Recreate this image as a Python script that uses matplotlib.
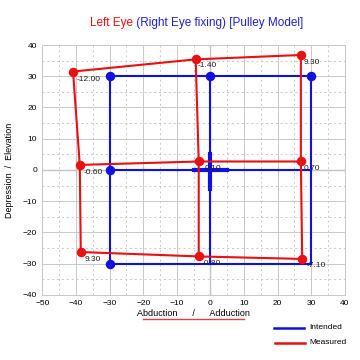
import matplotlib
matplotlib.use("Agg")
import matplotlib.pyplot as plt
from matplotlib.ticker import MultipleLocator

plt.rcParams['font.family'] = ['Liberation Sans', 'DejaVu Sans']

# intended grid (blue)
intended_x = [-30, 0, 30]
intended_y = [30, 0, -30]
intended_dots_x = [-30, 0, 30, -30, -30]
intended_dots_y = [30, 30, 30, 0, -30]

# measured positions (red), rows top -> bottom, cols left -> right
measured_x = [[-40.9, -4.4, 26.9],
              [-38.9, -3.5, 26.9],
              [-38.6, -3.5, 27.3]]
measured_y = [[31.5, 35.4, 36.8],
              [1.6, 2.7, 2.7],
              [-26.3, -27.7, -28.5]]

# torsion values shown next to each point
labels = ["-12.00", "-1.40", "9.30", "-0.60", "0.10", "0.70", "9.30", "-0.80", "-7.10"]
label_x = [-39.8, -3.7, 27.8, -37.9, -1.7, 27.8, -37.4, -2.6, 28.5]
label_y = [29.1, 33.3, 34.3, -0.7, 0.5, 0.3, -28.8, -30.1, -30.7]

fig = plt.figure(figsize=(3.6, 3.6), dpi=100)
ax = fig.add_axes([0.118, 0.181, 0.84, 0.694])

ax.set_xlim(-50, 40)
ax.set_ylim(-40, 40)
ax.xaxis.set_major_locator(MultipleLocator(10))
ax.yaxis.set_major_locator(MultipleLocator(10))
ax.xaxis.set_minor_locator(MultipleLocator(5))
ax.yaxis.set_minor_locator(MultipleLocator(5))
ax.grid(which='major', color='#c8c8c8', linewidth=0.7)
ax.grid(which='minor', color='#c8c8c8', linewidth=0.7, linestyle=(0, (2, 3)))
ax.tick_params(which='both', length=0, labelsize=6, pad=4)
for s in ax.spines.values():
    s.set_color('#c8c8c8')
    s.set_linewidth(0.7)

# black centre axes with small ticks
ax.axhline(0, color='#303030', lw=0.8, zorder=1)
ax.axvline(0, color='#303030', lw=0.8, zorder=1)
for t in range(-50, 41, 10):
    ax.plot([t, t], [-0.8, 0.8], color='#303030', lw=0.8, zorder=1)
for t in range(-40, 41, 10):
    ax.plot([-0.7, 0.7], [t, t], color='#303030', lw=0.8, zorder=1)

# intended (blue)
for x in intended_x:
    ax.plot([x, x], [-30, 30], color='#1010e0', lw=1.5, zorder=3)
for y in intended_y:
    ax.plot([-30, 30], [y, y], color='#1010e0', lw=1.5, zorder=3)
ax.plot([-5, 5], [0, 0], color='#1010e0', lw=3, zorder=3)
ax.plot([0, 0], [-6, 5], color='#1010e0', lw=3, zorder=3)
ax.scatter(intended_dots_x, intended_dots_y, s=34, color='#1010e0', zorder=4)

# measured (red)
for r in range(3):
    ax.plot(measured_x[r], measured_y[r], color='#e81010', lw=1.5, zorder=5)
for c in range(3):
    ax.plot([measured_x[r][c] for r in range(3)], [measured_y[r][c] for r in range(3)],
            color='#e81010', lw=1.5, zorder=5)
ax.scatter([v for row in measured_x for v in row], [v for row in measured_y for v in row],
           s=34, color='#e81010', zorder=6)

for t, x, y in zip(labels, label_x, label_y):
    ax.text(x, y, t, fontsize=6, color='#202020', ha='left', va='center', zorder=7)

# title in two colours
fig.text(0.37, 0.935, "Left Eye", color='#e81010', fontsize=8.5, ha='right', va='center')
fig.text(0.37, 0.935, " (Right Eye fixing) [Pulley Model]", color='#2020d0', fontsize=8.5,
         ha='left', va='center')

ax.set_ylabel("Depression  /  Elevation", fontsize=6.5, labelpad=6)
fig.text(0.536, 0.128, "Abduction      /      Adduction", fontsize=6.5, ha='center', va='center')
fig.add_artist(plt.Line2D([0.397, 0.678], [0.113, 0.113], color='#e04040', lw=1.0))

# legend
fig.add_artist(plt.Line2D([0.762, 0.845], [0.09, 0.09], color='#1010e0', lw=1.8))
fig.add_artist(plt.Line2D([0.765, 0.848], [0.048, 0.048], color='#e81010', lw=1.8))
fig.text(0.86, 0.09, "Intended", fontsize=6, va='center')
fig.text(0.86, 0.048, "Measured", fontsize=6, va='center')

fig.savefig("out.png", dpi=100)
